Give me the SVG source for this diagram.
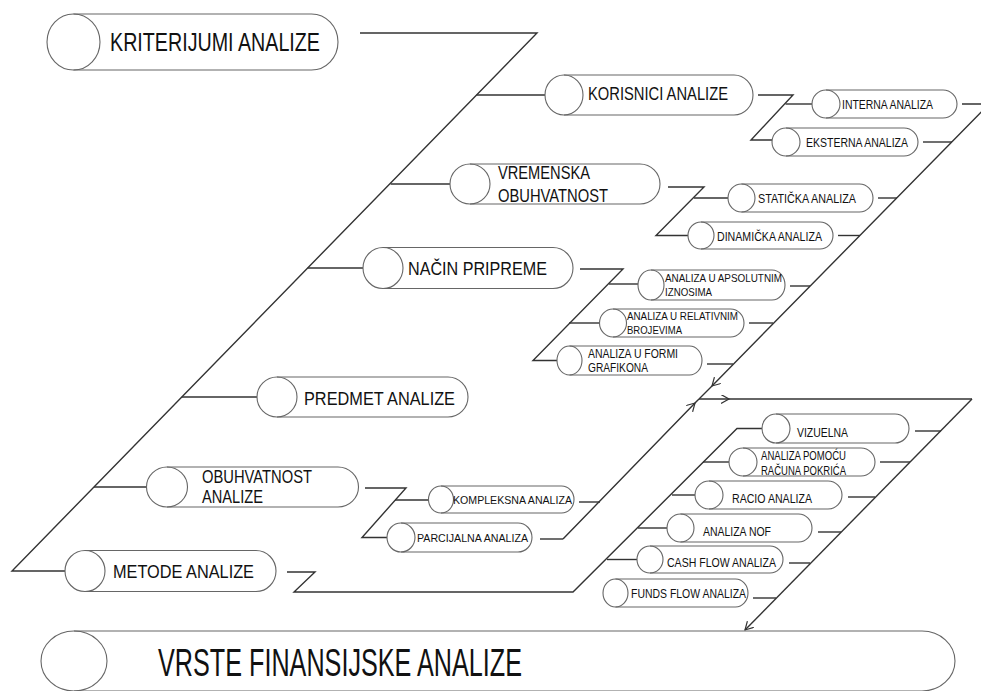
<svg xmlns="http://www.w3.org/2000/svg" width="981" height="691" viewBox="0 0 981 691">
  <defs>
    <marker id="chev" markerUnits="userSpaceOnUse" markerWidth="12" markerHeight="12" refX="8" refY="4.5" orient="auto">
      <path d="M0,0 L8,4.5 L0,9" fill="none" stroke="#333" stroke-width="1.2"/>
    </marker>
  </defs>
  <style>
    .pill { fill: none; stroke: #666; stroke-width: 1.1; }
    .wire { fill: none; stroke: #333; stroke-width: 1.4; stroke-linejoin: miter; }
    text { font-family: "Liberation Sans", Arial, sans-serif; fill: #111; }
    .big { font-size: 25px; }
    .mid { font-size: 18.5px; }
    .sm { font-size: 13px; }
    .xs { font-size: 11px; }
  </style>
  <rect width="981" height="691" fill="#fff"/>

  <!-- connectors -->
  <g id="connectors" class="wire">
    <!-- main spine -->
    <path d="M360,33 H537 L12,571 H65"/>
    <path d="M476.5,95 H545"/>
    <path d="M390.6,184 H450"/>
    <path d="M307.7,268 H363"/>
    <path d="M181.8,397 H257"/>
    <path d="M94,487 H146.5"/>
    <!-- users -->
    <path d="M758,95 H793 L751,140 H772"/>
    <path d="M785.5,104 H812"/>
    <!-- time coverage -->
    <path d="M668,187 H704 L656,235.5 H688"/>
    <path d="M694,198 H728"/>
    <!-- preparation -->
    <path d="M580,269 H623 L533,360.5 H557"/>
    <path d="M609,284 H638"/>
    <path d="M569,323 H599.5"/>
    <!-- right collector of upper group -->
    <path d="M962,104 H995"/>
    <path d="M923,142 H952"/>
    <path d="M878,198 H897"/>
    <path d="M838,235.5 H860"/>
    <path d="M790,286 H810"/>
    <path d="M749,323 H773"/>
    <path d="M707,364 H733"/>
    <path d="M995,98 L712,386 L699,399" marker-mid="url(#chev)"/>
    <!-- scope -->
    <path d="M365,488 H406 L362,537.5 H387"/>
    <path d="M395,500 H428.5"/>
    <path d="M579,502 H600"/>
    <path d="M540,539 H563"/>
    <path d="M563,539 L695,403 L699,399" marker-mid="url(#chev)"/>
    <!-- top of methods collector -->
    <path d="M699,399 L729,399 L972,399" marker-mid="url(#chev)"/>
    <path d="M972,399 L745,630" marker-end="url(#chev)"/>
    <!-- methods -->
    <path d="M287,572 H315 L294,592 H573 L737,428.5 H762"/>
    <path d="M703,462 H729"/>
    <path d="M672,495 H695"/>
    <path d="M638,528 H667"/>
    <path d="M607,559.5 H637"/>
    <!-- right collector of methods -->
    <path d="M915,431 H941"/>
    <path d="M880,462 H910"/>
    <path d="M848,497 H875"/>
    <path d="M818,532 H841"/>
    <path d="M789,563 H810"/>
    <path d="M753,598 H776"/>
  </g>

  <!-- nodes -->
  <g id="kriterijumi">
    <path class="pill" d="M73.5,14 H311.5 A26.5,28 0 0 1 311.5,70 H73.5"/>
    <ellipse class="pill" cx="73.5" cy="42" rx="26.5" ry="28"/>
    <text class="big" x="110" y="51" textLength="210" lengthAdjust="spacingAndGlyphs">KRITERIJUMI ANALIZE</text>
  </g>
  <g id="korisnici">
    <path class="pill" d="M564,75 H734 A19,20 0 0 1 734,115 H564"/>
    <ellipse class="pill" cx="564" cy="95" rx="19" ry="20"/>
    <text class="mid" x="588" y="100" textLength="140" lengthAdjust="spacingAndGlyphs">KORISNICI ANALIZE</text>
  </g>
  <g id="vremenska">
    <path class="pill" d="M470,164 H640 A20,20 0 0 1 640,204 H470"/>
    <ellipse class="pill" cx="470" cy="184" rx="20" ry="20"/>
    <text class="mid" x="498" y="179" textLength="92" lengthAdjust="spacingAndGlyphs">VREMENSKA</text>
    <text class="mid" x="498" y="202" textLength="110" lengthAdjust="spacingAndGlyphs">OBUHVATNOST</text>
  </g>
  <g id="nacin">
    <path class="pill" d="M383,247.5 H553 A20,20.5 0 0 1 553,288.5 H383"/>
    <ellipse class="pill" cx="383" cy="268" rx="20" ry="20.5"/>
    <text class="mid" x="408" y="275" textLength="139" lengthAdjust="spacingAndGlyphs">NAČIN PRIPREME</text>
  </g>
  <g id="predmet">
    <path class="pill" d="M277,377 H448 A20,20 0 0 1 448,417 H277"/>
    <ellipse class="pill" cx="277" cy="397" rx="20" ry="20"/>
    <text class="mid" x="304" y="405" textLength="151" lengthAdjust="spacingAndGlyphs">PREDMET ANALIZE</text>
  </g>
  <g id="obuhvatnost">
    <path class="pill" d="M167,467 H338 A20.5,20 0 0 1 338,507 H167"/>
    <ellipse class="pill" cx="167" cy="487" rx="20.5" ry="20"/>
    <text class="mid" x="202" y="483" textLength="110" lengthAdjust="spacingAndGlyphs">OBUHVATNOST</text>
    <text class="mid" x="202" y="503" textLength="61" lengthAdjust="spacingAndGlyphs">ANALIZE</text>
  </g>
  <g id="metode">
    <path class="pill" d="M85,550.5 H256 A20,20.5 0 0 1 256,591.5 H85"/>
    <ellipse class="pill" cx="85" cy="571" rx="20" ry="20.5"/>
    <text class="mid" x="113" y="578" textLength="141" lengthAdjust="spacingAndGlyphs">METODE ANALIZE</text>
  </g>
  <g id="vrste">
    <path class="pill" d="M74,631 H922 A33,30 0 0 1 922,691 H74"/>
    <ellipse class="pill" cx="74" cy="661" rx="33" ry="30"/>
    <text x="158" y="676" font-size="39" textLength="364" lengthAdjust="spacingAndGlyphs">VRSTE FINANSIJSKE ANALIZE</text>
  </g>

  <!-- users sub-nodes -->
  <g id="interna">
    <path class="pill" d="M826,90 H943 A14,14 0 0 1 943,118 H826"/>
    <ellipse class="pill" cx="826" cy="104" rx="14" ry="14"/>
    <text class="sm" x="842" y="108.5" textLength="91" lengthAdjust="spacingAndGlyphs">INTERNA ANALIZA</text>
  </g>
  <g id="eksterna">
    <path class="pill" d="M786,128 H904 A14,14 0 0 1 904,156 H786"/>
    <ellipse class="pill" cx="786" cy="142" rx="14" ry="14"/>
    <text class="sm" x="806" y="147" textLength="102" lengthAdjust="spacingAndGlyphs">EKSTERNA ANALIZA</text>
  </g>
  <!-- time sub-nodes -->
  <g id="staticka">
    <path class="pill" d="M741.5,184 H859.5 A13.5,14 0 0 1 859.5,212 H741.5"/>
    <ellipse class="pill" cx="741.5" cy="198" rx="13.5" ry="14"/>
    <text class="sm" x="758" y="202.5" textLength="98" lengthAdjust="spacingAndGlyphs">STATIČKA ANALIZA</text>
  </g>
  <g id="dinamicka">
    <path class="pill" d="M701,222 H820 A13,13.5 0 0 1 820,249 H701"/>
    <ellipse class="pill" cx="701" cy="235.5" rx="13" ry="13.5"/>
    <text class="sm" x="717" y="240.5" textLength="105" lengthAdjust="spacingAndGlyphs">DINAMIČKA ANALIZA</text>
  </g>
  <!-- preparation sub-nodes -->
  <g id="apsolutnim">
    <path class="pill" d="M651,270 H772 A13,15 0 0 1 772,300 H651"/>
    <ellipse class="pill" cx="651" cy="285" rx="13" ry="15"/>
    <text class="xs" x="665" y="282" textLength="117" lengthAdjust="spacingAndGlyphs">ANALIZA U APSOLUTNIM</text>
    <text class="xs" x="665" y="295.5" textLength="47" lengthAdjust="spacingAndGlyphs">IZNOSIMA</text>
  </g>
  <g id="relativnim">
    <path class="pill" d="M613,309 H730.5 A13.5,14 0 0 1 730.5,337 H613"/>
    <ellipse class="pill" cx="613" cy="323" rx="13.5" ry="14"/>
    <text class="xs" x="627" y="320" textLength="111" lengthAdjust="spacingAndGlyphs">ANALIZA U RELATIVNIM</text>
    <text class="xs" x="627" y="333.5" textLength="55" lengthAdjust="spacingAndGlyphs">BROJEVIMA</text>
  </g>
  <g id="grafikona">
    <path class="pill" d="M569.5,346 H689.5 A12.5,14.5 0 0 1 689.5,375 H569.5"/>
    <ellipse class="pill" cx="569.5" cy="360.5" rx="12.5" ry="14.5"/>
    <text class="sm" x="588" y="358" textLength="90" lengthAdjust="spacingAndGlyphs">ANALIZA U FORMI</text>
    <text class="sm" x="588" y="371.5" textLength="60" lengthAdjust="spacingAndGlyphs">GRAFIKONA</text>
  </g>
  <!-- scope sub-nodes -->
  <g id="kompleksna">
    <path class="pill" d="M441,486 H561.5 A12.5,13.5 0 0 1 561.5,513 H441"/>
    <ellipse class="pill" cx="441" cy="499.5" rx="12.5" ry="13.5"/>
    <text class="xs" x="453" y="503.5" textLength="119" lengthAdjust="spacingAndGlyphs">KOMPLEKSNA ANALIZA</text>
  </g>
  <g id="parcijalna">
    <path class="pill" d="M401,523 H518 A14,14.5 0 0 1 518,552 H401"/>
    <ellipse class="pill" cx="401" cy="537.5" rx="14" ry="14.5"/>
    <text class="xs" x="417" y="542" textLength="111" lengthAdjust="spacingAndGlyphs">PARCIJALNA ANALIZA</text>
  </g>
  <!-- methods sub-nodes -->
  <g id="vizuelna">
    <path class="pill" d="M776,414 H895 A14,14.5 0 0 1 895,443 H776"/>
    <ellipse class="pill" cx="776" cy="428.5" rx="14" ry="14.5"/>
    <text class="sm" x="797" y="437" textLength="51" lengthAdjust="spacingAndGlyphs">VIZUELNA</text>
  </g>
  <g id="pokrica">
    <path class="pill" d="M743,448 H861 A14,14 0 0 1 861,476 H743"/>
    <ellipse class="pill" cx="743" cy="462" rx="14" ry="14"/>
    <text class="sm" x="761" y="460" textLength="85" lengthAdjust="spacingAndGlyphs">ANALIZA POMOĆU</text>
    <text class="sm" x="761" y="475" textLength="85" lengthAdjust="spacingAndGlyphs">RAČUNA POKRIĆA</text>
  </g>
  <g id="racio">
    <path class="pill" d="M709,481 H828 A14,14 0 0 1 828,509 H709"/>
    <ellipse class="pill" cx="709" cy="495" rx="14" ry="14"/>
    <text class="sm" x="732" y="503" textLength="80" lengthAdjust="spacingAndGlyphs">RACIO ANALIZA</text>
  </g>
  <g id="nof">
    <path class="pill" d="M680.5,514 H798.5 A13.5,14 0 0 1 798.5,542 H680.5"/>
    <ellipse class="pill" cx="680.5" cy="528" rx="13.5" ry="14"/>
    <text class="sm" x="703" y="536" textLength="68" lengthAdjust="spacingAndGlyphs">ANALIZA NOF</text>
  </g>
  <g id="cashflow">
    <path class="pill" d="M650,546 H770 A13,13.5 0 0 1 770,573 H650"/>
    <ellipse class="pill" cx="650" cy="559.5" rx="13" ry="13.5"/>
    <text class="sm" x="667" y="567" textLength="109" lengthAdjust="spacingAndGlyphs">CASH FLOW ANALIZA</text>
  </g>
  <g id="fundsflow">
    <path class="pill" d="M615.5,579 H735.5 A12.5,14 0 0 1 735.5,607 H615.5"/>
    <ellipse class="pill" cx="615.5" cy="593" rx="12.5" ry="14"/>
    <text class="sm" x="631" y="598" textLength="115" lengthAdjust="spacingAndGlyphs">FUNDS FLOW ANALIZA</text>
  </g>
</svg>
